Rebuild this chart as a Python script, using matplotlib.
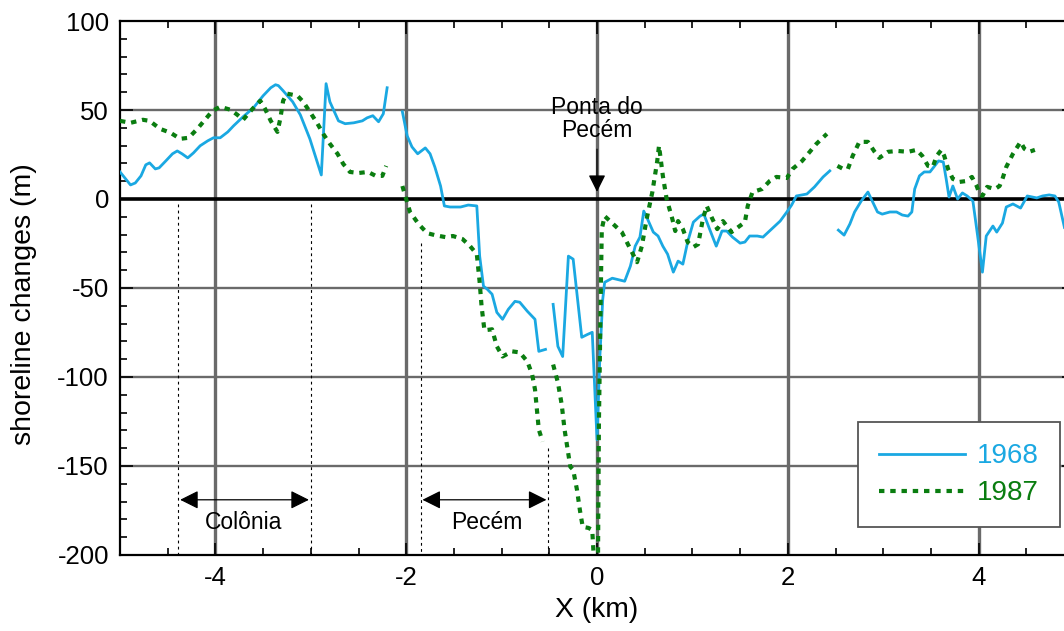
import matplotlib
matplotlib.use("Agg")
import matplotlib.pyplot as plt
import numpy as np

plt.rcParams['font.family'] = ['Liberation Sans', 'DejaVu Sans']
plt.rcParams['axes.unicode_minus'] = False

# 1968 shoreline change, segments separated by gaps (km, m)
x68_a = [-5.0, -4.89, -4.84, -4.78, -4.73, -4.69, -4.63, -4.59, -4.52, -4.45, -4.40, -4.35,
         -4.29, -4.23, -4.16, -4.08, -4.02, -3.95, -3.87, -3.81, -3.71, -3.60, -3.50, -3.42,
         -3.37, -3.34, -3.29, -3.19, -3.11, -3.01, -2.89, -2.84, -2.80, -2.71, -2.64, -2.55,
         -2.46, -2.41, -2.35, -2.29, -2.24, -2.20]
y68_a = [15.2, 7.9, 9.0, 13.0, 19.2, 20.3, 16.9, 17.5, 21.4, 25.4, 27.0, 25.4,
         23.1, 25.9, 29.9, 32.7, 34.4, 34.4, 37.7, 41.1, 46.2, 51.3, 58.0, 62.5,
         64.2, 63.7, 60.8, 54.6, 47.3, 33.8, 13.5, 64.8, 54.6, 43.9, 42.3, 42.8,
         43.9, 45.6, 46.8, 43.4, 47.9, 62.5]
x68_b = [-2.04, -1.99, -1.94, -1.88, -1.80, -1.75, -1.70, -1.64, -1.60, -1.54, -1.43, -1.35,
         -1.26, -1.23, -1.19, -1.15, -1.10, -1.05, -0.99, -0.93, -0.86, -0.81, -0.73, -0.65,
         -0.61, -0.54]
y68_b = [49.0, 35.5, 29.3, 25.4, 28.7, 25.4, 18.0, 7.3, -3.9, -4.5, -4.5, -3.4,
         -3.9, -32.1, -49.0, -50.7, -53.5, -63.7, -67.6, -62.0, -57.5, -58.0, -63.1, -67.6,
         -85.6, -84.5]
x68_c = [-0.46, -0.41, -0.36, -0.30, -0.25, -0.16, -0.10, -0.05, 0.0, 0.03, 0.06, 0.08,
         0.16, 0.29, 0.35, 0.40, 0.45, 0.49, 0.53, 0.59, 0.64, 0.69, 0.74, 0.80, 0.85, 0.90,
         0.95, 1.01, 1.08, 1.12, 1.18, 1.25, 1.31, 1.36, 1.42, 1.50, 1.55, 1.60, 1.68, 1.74,
         1.83, 1.92, 1.99, 2.04, 2.09, 2.20, 2.28, 2.37, 2.44]
y68_c = [-59.2, -82.8, -88.5, -32.1, -33.8, -77.7, -76.1, -74.9, -135.2, -88.5, -56.3, -46.8,
         -44.5, -46.2, -37.7, -26.5, -21.4, -6.8, -11.3, -18.6, -20.8, -26.5, -31.0, -41.1, -34.9, -36.6,
         -24.2, -13.0, -9.6, -8.5, -16.9, -26.5, -18.0, -18.0, -21.4, -24.8, -24.2, -20.8, -20.8, -21.4,
         -16.9, -12.4, -7.3, -3.4, 1.7, 2.8, 6.8, 12.4, 15.8]
x68_d = [2.53, 2.59, 2.65, 2.70, 2.77, 2.84, 2.89, 2.94, 2.99, 3.07, 3.14, 3.20, 3.26, 3.30,
         3.33, 3.38, 3.43, 3.49, 3.54, 3.58, 3.63, 3.66, 3.69, 3.73, 3.78, 3.83, 3.88, 3.94,
         3.99, 4.04, 4.08, 4.15, 4.19, 4.25, 4.29, 4.36, 4.44, 4.51, 4.61, 4.67, 4.74, 4.80,
         4.84, 4.90]
y68_d = [-17.5, -20.3, -14.1, -7.3, -1.1, 3.9, -1.7, -7.3, -8.5, -7.3, -7.3, -9.0, -9.6, -7.3,
         5.6, 13.0, 15.2, 15.2, 18.6, 21.4, 20.8, 11.3, 1.1, 7.3, 0.0, 3.4, 1.7, -1.1,
         -20.8, -41.1, -20.8, -15.2, -18.6, -13.5, -4.5, -2.8, -5.1, 1.7, 0.6, 1.7, 2.3, 1.7,
         -1.7, -16.0]

# 1987 shoreline change
x87_a = [-5.0, -4.89, -4.76, -4.69, -4.58, -4.47, -4.37, -4.28, -4.19, -4.10, -4.03, -3.95,
         -3.84, -3.77, -3.71, -3.61, -3.53, -3.48, -3.42, -3.35, -3.32, -3.29, -3.25, -3.14,
         -3.08, -3.01, -2.93, -2.87, -2.80, -2.72, -2.66, -2.59, -2.50, -2.40, -2.32, -2.25,
         -2.21]
y87_a = [43.9, 42.8, 44.5, 43.9, 39.4, 37.2, 33.8, 34.4, 39.4, 45.1, 49.6, 51.8,
         50.1, 47.3, 44.5, 50.7, 55.2, 50.7, 43.9, 37.7, 45.1, 55.2, 59.2, 58.0,
         54.6, 49.0, 42.3, 36.6, 31.0, 25.4, 19.7, 15.2, 14.6, 15.2, 13.0, 13.0,
         18.6]
x87_b = [-2.04, -2.01, -1.96, -1.87, -1.78, -1.70, -1.59, -1.51, -1.41, -1.33, -1.26, -1.23,
         -1.21, -1.18, -1.10, -1.05, -0.99, -0.89, -0.81, -0.73, -0.68, -0.65, -0.63, -0.61,
         -0.57]
y87_b = [7.3, 1.7, -7.3, -14.1, -19.2, -20.3, -21.4, -20.8, -22.5, -26.5, -31.0, -46.8,
         -60.3, -73.8, -73.2, -82.8, -88.5, -85.6, -86.2, -91.3, -98.6, -107.0, -118.3, -129.6,
         -136.3]
x87_c = [-0.46, -0.41, -0.37, -0.34, -0.28, -0.25, -0.21, -0.18, -0.15, -0.09, -0.05, -0.03,
         0.01, 0.02, 0.04, 0.05, 0.08, 0.17, 0.26, 0.35, 0.42, 0.47, 0.52, 0.58, 0.63, 0.65,
         0.69, 0.73, 0.79, 0.82, 0.85, 0.90, 0.95, 1.01, 1.06, 1.11, 1.15, 1.20, 1.26, 1.32,
         1.41, 1.48, 1.55, 1.58, 1.63, 1.73, 1.81, 1.88, 1.99, 2.05, 2.15, 2.23, 2.30, 2.41]
y87_c = [-93.0, -103.1, -115.5, -129.6, -150.4, -152.1, -163.4, -174.6, -184.2, -184.8, -185.9, -205.0,
         -205.0, -125.6, -50.7, -16.9, -9.6, -14.1, -18.6, -28.2, -35.5, -26.5, -11.3, 3.9, 20.8, 29.9,
         13.0, 0.0, -11.3, -18.0, -12.4, -16.9, -24.2, -27.0, -25.4, -11.3, -3.9, -10.1, -16.9, -12.4,
         -18.6, -15.8, -13.0, -3.9, 3.9, 5.6, 10.1, 12.4, 11.8, 16.9, 21.4, 26.5, 31.0, 36.6]
x87_d = [2.52, 2.58, 2.63, 2.68, 2.75, 2.84, 2.91, 2.96, 3.05, 3.15, 3.26, 3.35, 3.41, 3.47,
         3.52, 3.56, 3.61, 3.64, 3.68, 3.73, 3.80, 3.87, 3.93, 3.98, 4.01, 4.04, 4.09, 4.17,
         4.22, 4.25, 4.29, 4.36, 4.44, 4.48, 4.53, 4.59]
y87_d = [18.6, 16.9, 16.9, 24.2, 32.1, 32.1, 26.5, 23.1, 26.5, 27.0, 26.5, 27.6, 24.2, 18.6,
         18.0, 24.2, 27.6, 24.2, 16.9, 11.3, 9.6, 10.1, 12.4, 7.3, 2.8, 1.7, 6.8, 5.6,
         7.3, 11.3, 18.0, 25.4, 32.1, 28.2, 26.5, 27.6]

segs68 = [(x68_a, y68_a), (x68_b, y68_b), (x68_c, y68_c), (x68_d, y68_d)]
segs87 = [(x87_a, y87_a), (x87_b, y87_b), (x87_c, y87_c), (x87_d, y87_d)]

c68 = '#1aa8e2'
c87 = '#0a7d10'

fig = plt.figure(figsize=(10.64, 6.31), dpi=100)
ax = fig.add_axes([0.1128, 0.1205, 0.8966, 0.8462])

# grid
for gx in [-4, -2, 0, 2, 4]:
    ax.axvline(gx, color='#6a6a6a', lw=2.4, zorder=1)
for gy in [50, -50, -100, -150]:
    ax.axhline(gy, color='#6a6a6a', lw=1.7, zorder=1)
ax.axhline(0, color='black', lw=2.6, zorder=1)

# zone boundaries
for xb, yt in [(-4.39, -3), (-3.0, -3), (-1.85, -25), (-0.51, -140)]:
    ax.plot([xb, xb], [yt, -200], color='black', lw=0.8, ls=(0, (2.5, 3)), zorder=2)

for i, (xs, ys) in enumerate(segs68):
    ax.plot(xs, ys, color=c68, lw=2, zorder=3, label='1968' if i == 0 else None)
for i, (xs, ys) in enumerate(segs87):
    ax.plot(xs, ys, color=c87, lw=3, ls=(0, (1.3, 1.4)), zorder=3,
            label='1987' if i == 0 else None)

# annotations
aprops = dict(arrowstyle='<|-|>', color='black', lw=0.9, mutation_scale=28, shrinkA=0, shrinkB=0)
ax.annotate('', xy=(-4.37, -169), xytext=(-3.02, -169), arrowprops=aprops)
ax.annotate('', xy=(-1.83, -169), xytext=(-0.53, -169), arrowprops=aprops)
ax.text(-3.7, -182, 'Colônia', ha='center', va='center', fontsize=16.5)
ax.text(-1.15, -182, 'Pecém', ha='center', va='center', fontsize=16.5)
ax.text(0, 45, 'Ponta do\nPecém', ha='center', va='center', fontsize=16.5, linespacing=1.0)
ax.annotate('', xy=(0, 4), xytext=(0, 28),
            arrowprops=dict(arrowstyle='-|>', color='black', lw=0.9, mutation_scale=26,
                            shrinkA=0, shrinkB=0))

ax.set_xlim(-5, 5)
ax.set_ylim(-200, 100)
ax.set_xticks([-4, -2, 0, 2, 4])
ax.set_xticks(np.arange(-5, 5.01, 0.5), minor=True)
ax.set_yticks([-200, -150, -100, -50, 0, 50, 100])
ax.set_yticks(np.arange(-200, 101, 10), minor=True)
ax.tick_params(which='both', direction='in', top=True, right=True, labelsize=18.5, width=1.2)
ax.tick_params(which='major', length=9, pad=8)
ax.tick_params(which='minor', length=5)
for s in ax.spines.values():
    s.set_linewidth(1.6)

ax.set_xlabel('X (km)', fontsize=20.3, labelpad=5)
ax.set_ylabel('shoreline changes (m)', fontsize=20.5)
ax.yaxis.set_label_coords(-0.087, 0.47)

leg = ax.legend(loc='lower right', bbox_to_anchor=(0.9853, 0.052), fontsize=20,
                frameon=True, fancybox=False, edgecolor='#555555', framealpha=1,
                handlelength=3.1, handletextpad=0.45, borderpad=0.75, labelspacing=0.4,
                borderaxespad=0)
leg.get_frame().set_linewidth(1.3)
for t, c in zip(leg.get_texts(), [c68, c87]):
    t.set_color(c)

fig.savefig('out.png', dpi=100)
